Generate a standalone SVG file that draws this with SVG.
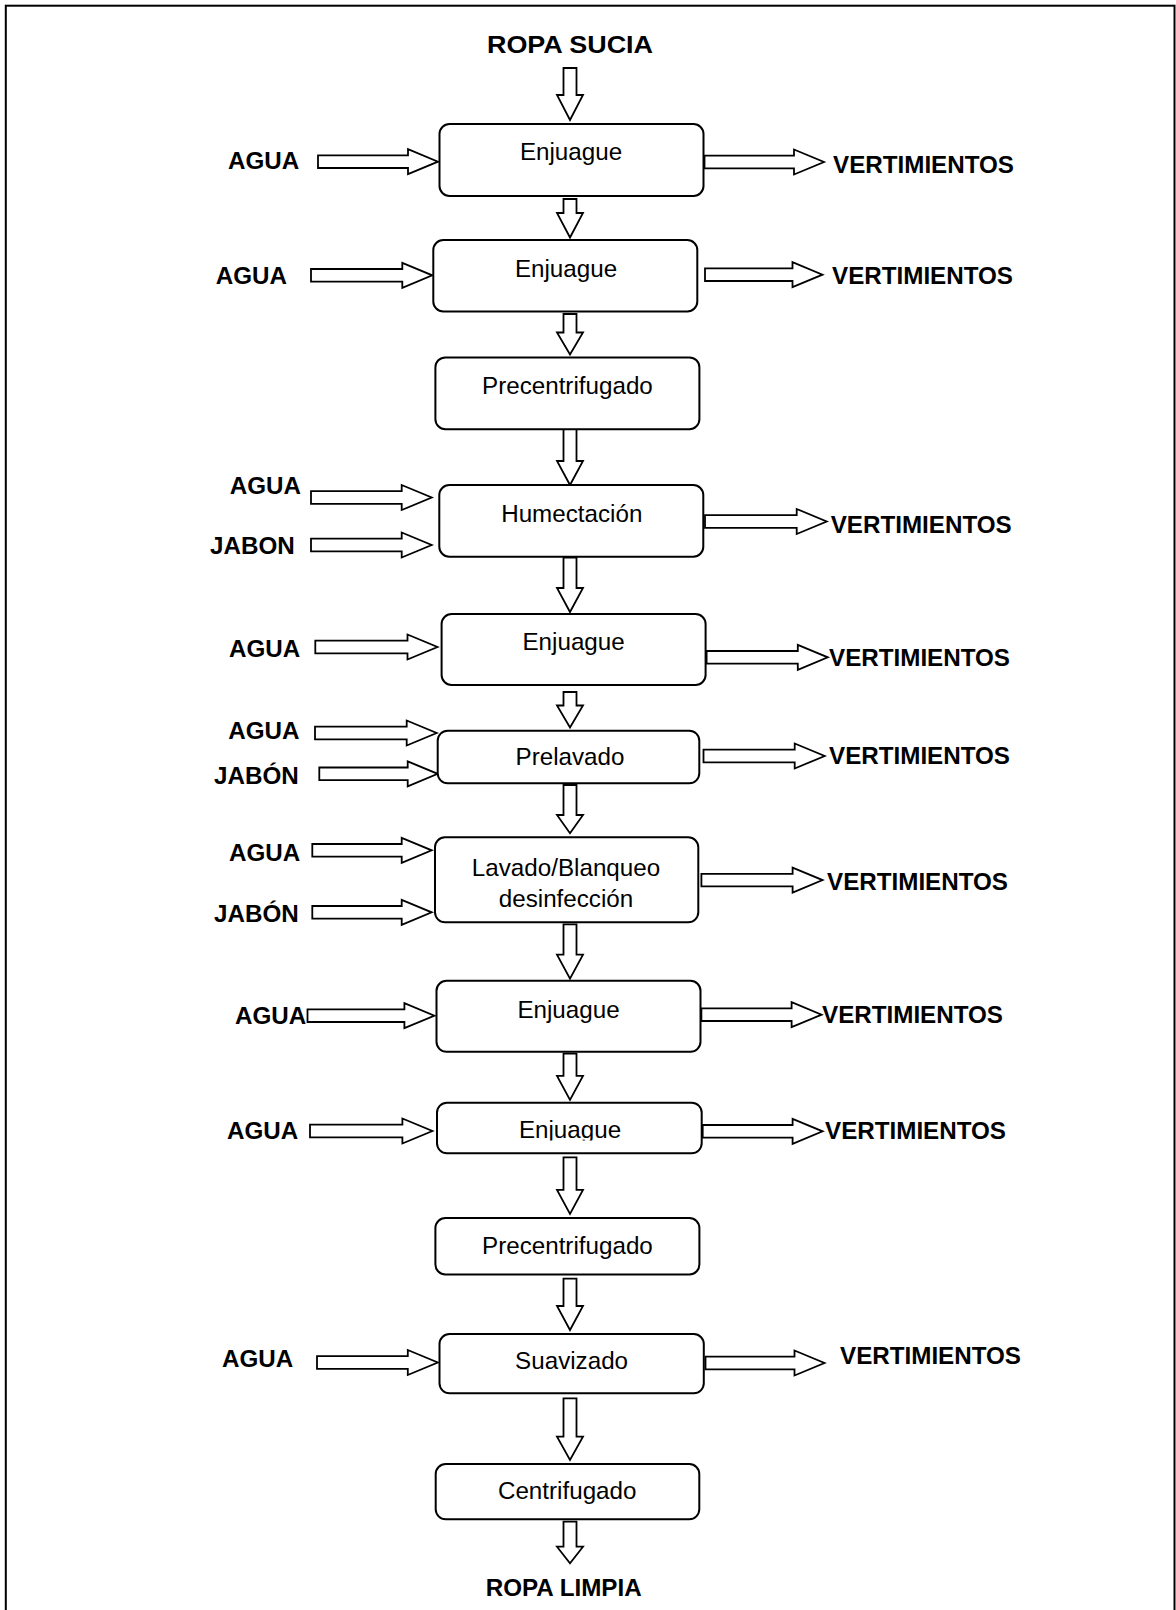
<svg xmlns="http://www.w3.org/2000/svg" width="1176" height="1610" viewBox="0 0 1176 1610">
<style>
.box{fill:#fff;stroke:#000;stroke-width:2}
.arr{fill:#fff;stroke:#000;stroke-width:1.8;stroke-linejoin:miter}
.lbl{font-family:"Liberation Sans",Arial,sans-serif;font-weight:bold;font-size:24.2px;fill:#000}
.txt{font-family:"Liberation Sans",Arial,sans-serif;font-size:24.2px;fill:#000;text-anchor:middle}
</style>
<defs>
<clipPath id="clip9"><rect x="430" y="1100" width="280" height="40.5"/></clipPath>
</defs>
<rect x="5.8" y="5.7" width="1168.7" height="1620" fill="none" stroke="#000" stroke-width="2"/>
<g id="connectors">
<polygon class="arr" points="563.5,68 576.5,68 576.5,95 583,95 570,120 557,95 563.5,95"/>
<polygon class="arr" points="318,155.4 408,155.4 408,149.2 438,161.7 408,174.2 408,168 318,168"/>
<polygon class="arr" points="704.5,155.7 794,155.7 794,149.5 824,162 794,174.5 794,168.3 704.5,168.3"/>
<polygon class="arr" points="563.5,199 576.5,199 576.5,213 583,213 570,237.5 557,213 563.5,213"/>
<polygon class="arr" points="311,269 402.3,269 402.3,262.8 432.3,275.3 402.3,287.8 402.3,281.6 311,281.6"/>
<polygon class="arr" points="705,268.4 792.5,268.4 792.5,262.2 822.5,274.7 792.5,287.2 792.5,281 705,281"/>
<polygon class="arr" points="563.5,314 576.5,314 576.5,332.5 583,332.5 570,354.5 557,332.5 563.5,332.5"/>
<polygon class="arr" points="563.5,429 576.5,429 576.5,461 583,461 570,485 557,461 563.5,461"/>
<polygon class="arr" points="311,491.2 401.7,491.2 401.7,485 431.7,497.5 401.7,510 401.7,503.8 311,503.8"/>
<polygon class="arr" points="311,538.7 401.7,538.7 401.7,532.5 431.7,545 401.7,557.5 401.7,551.3 311,551.3"/>
<polygon class="arr" points="705,515.2 796.7,515.2 796.7,509 826.7,521.5 796.7,534 796.7,527.8 705,527.8"/>
<polygon class="arr" points="563.5,557.7 576.5,557.7 576.5,588 583,588 570,612 557,588 563.5,588"/>
<polygon class="arr" points="315.3,640.7 407.5,640.7 407.5,634.5 437.5,647 407.5,659.5 407.5,653.3 315.3,653.3"/>
<polygon class="arr" points="706.6,651 797.8,651 797.8,644.8 827.8,657.3 797.8,669.8 797.8,663.6 706.6,663.6"/>
<polygon class="arr" points="563.5,692 576.5,692 576.5,705.5 583,705.5 570,727.5 557,705.5 563.5,705.5"/>
<polygon class="arr" points="315,726.7 406.7,726.7 406.7,720.5 436.7,733 406.7,745.5 406.7,739.3 315,739.3"/>
<polygon class="arr" points="319.3,767.5 407.7,767.5 407.7,761.3 437.7,773.8 407.7,786.3 407.7,780.1 319.3,780.1"/>
<polygon class="arr" points="703.5,749.7 794.7,749.7 794.7,743.5 824.7,756 794.7,768.5 794.7,762.3 703.5,762.3"/>
<polygon class="arr" points="563.5,785 576.5,785 576.5,815 583,815 570,833.3 557,815 563.5,815"/>
<polygon class="arr" points="312.3,844 401.7,844 401.7,837.8 431.7,850.3 401.7,862.8 401.7,856.6 312.3,856.6"/>
<polygon class="arr" points="312.3,906 401.7,906 401.7,899.8 431.7,912.3 401.7,924.8 401.7,918.6 312.3,918.6"/>
<polygon class="arr" points="701.4,873.8 792.6,873.8 792.6,867.6 822.6,880.1 792.6,892.6 792.6,886.4 701.4,886.4"/>
<polygon class="arr" points="563.5,924.3 576.5,924.3 576.5,954.7 583,954.7 570,978.7 557,954.7 563.5,954.7"/>
<polygon class="arr" points="307.5,1009.4 404.4,1009.4 404.4,1003.2 434.4,1015.7 404.4,1028.2 404.4,1022 307.5,1022"/>
<polygon class="arr" points="701.4,1008.4 791.6,1008.4 791.6,1002.2 821.6,1014.7 791.6,1027.2 791.6,1021 701.4,1021"/>
<polygon class="arr" points="563.5,1053.7 576.5,1053.7 576.5,1075.9 583,1075.9 570,1099.9 557,1075.9 563.5,1075.9"/>
<polygon class="arr" points="310,1124.7 402.4,1124.7 402.4,1118.5 432.4,1131 402.4,1143.5 402.4,1137.3 310,1137.3"/>
<polygon class="arr" points="702.7,1125 792.6,1125 792.6,1118.8 822.6,1131.3 792.6,1143.8 792.6,1137.6 702.7,1137.6"/>
<polygon class="arr" points="563.5,1157.4 576.5,1157.4 576.5,1189.9 583,1189.9 570,1213.9 557,1189.9 563.5,1189.9"/>
<polygon class="arr" points="563.5,1278.6 576.5,1278.6 576.5,1306 583,1306 570,1330 557,1306 563.5,1306"/>
<polygon class="arr" points="317,1356.2 407.8,1356.2 407.8,1350 437.8,1362.5 407.8,1375 407.8,1368.8 317,1368.8"/>
<polygon class="arr" points="705.5,1356.7 794.5,1356.7 794.5,1350.5 824.5,1363 794.5,1375.5 794.5,1369.3 705.5,1369.3"/>
<polygon class="arr" points="563.5,1398.3 576.5,1398.3 576.5,1436.7 583,1436.7 570,1460 557,1436.7 563.5,1436.7"/>
<polygon class="arr" points="563.5,1521.7 576.5,1521.7 576.5,1546.7 583,1546.7 570,1563.3 557,1546.7 563.5,1546.7"/>
</g>
<g id="labels">
<text class="lbl" x="487" y="53" textLength="166" lengthAdjust="spacingAndGlyphs">ROPA SUCIA</text>
<text class="lbl" x="228" y="169">AGUA</text>
<text class="lbl" x="833" y="173">VERTIMIENTOS</text>
<text class="lbl" x="215.7" y="284.3">AGUA</text>
<text class="lbl" x="832" y="284.3">VERTIMIENTOS</text>
<text class="lbl" x="229.7" y="494.3">AGUA</text>
<text class="lbl" x="210" y="554.3">JABON</text>
<text class="lbl" x="830.7" y="532.7">VERTIMIENTOS</text>
<text class="lbl" x="229" y="657.3">AGUA</text>
<text class="lbl" x="829" y="665.5">VERTIMIENTOS</text>
<text class="lbl" x="228.3" y="739">AGUA</text>
<text class="lbl" x="214" y="784.3">JABÓN</text>
<text class="lbl" x="829" y="764">VERTIMIENTOS</text>
<text class="lbl" x="229" y="861">AGUA</text>
<text class="lbl" x="214" y="921.7">JABÓN</text>
<text class="lbl" x="827" y="890.4">VERTIMIENTOS</text>
<text class="lbl" x="235" y="1024">AGUA</text>
<text class="lbl" x="822" y="1023">VERTIMIENTOS</text>
<text class="lbl" x="227" y="1139">AGUA</text>
<text class="lbl" x="825" y="1139">VERTIMIENTOS</text>
<text class="lbl" x="222" y="1366.7">AGUA</text>
<text class="lbl" x="840" y="1364">VERTIMIENTOS</text>
<text class="lbl" x="563.7" y="1596" text-anchor="middle">ROPA LIMPIA</text>
</g>
<g id="n1"><rect class="box" x="439.5" y="124" width="264" height="72" rx="10"/><text class="txt" x="571" y="160">Enjuague</text></g>
<g id="n2"><rect class="box" x="433.3" y="240" width="264" height="71.5" rx="10"/><text class="txt" x="566" y="276.7">Enjuague</text></g>
<g id="n3"><rect class="box" x="435.4" y="357.4" width="264" height="71.8" rx="10"/><text class="txt" x="567.4" y="394.4">Precentrifugado</text></g>
<g id="n4"><rect class="box" x="439.3" y="485" width="264" height="71.7" rx="10"/><text class="txt" x="571.8" y="522.3">Humectación</text></g>
<g id="n5"><rect class="box" x="441.6" y="614" width="264" height="71" rx="10"/><text class="txt" x="573.6" y="650">Enjuague</text></g>
<g id="n6"><rect class="box" x="437.7" y="730.7" width="261.6" height="52.6" rx="10"/><text class="txt" x="570" y="765">Prelavado</text></g>
<g id="n7"><rect class="box" x="435" y="837.3" width="263.3" height="85" rx="10"/><text class="txt" x="566" y="875.7">Lavado/Blanqueo</text><text class="txt" x="566" y="906.7">desinfección</text></g>
<g id="n8"><rect class="box" x="436.5" y="980.8" width="264" height="71" rx="10"/><text class="txt" x="568.5" y="1017.8">Enjuague</text></g>
<g id="n9"><rect class="box" x="437" y="1102.7" width="264.7" height="50.6" rx="10"/><text class="txt" x="570" y="1137.7" clip-path="url(#clip9)">Enjuague</text></g>
<g id="n10"><rect class="box" x="435.4" y="1218" width="264" height="56.5" rx="10"/><text class="txt" x="567.4" y="1254">Precentrifugado</text></g>
<g id="n11"><rect class="box" x="439.5" y="1334" width="264.3" height="59.3" rx="10"/><text class="txt" x="571.6" y="1369.3">Suavizado</text></g>
<g id="n12"><rect class="box" x="435.7" y="1464" width="263.6" height="55.3" rx="10"/><text class="txt" x="567.2" y="1499.3">Centrifugado</text></g>
</svg>
